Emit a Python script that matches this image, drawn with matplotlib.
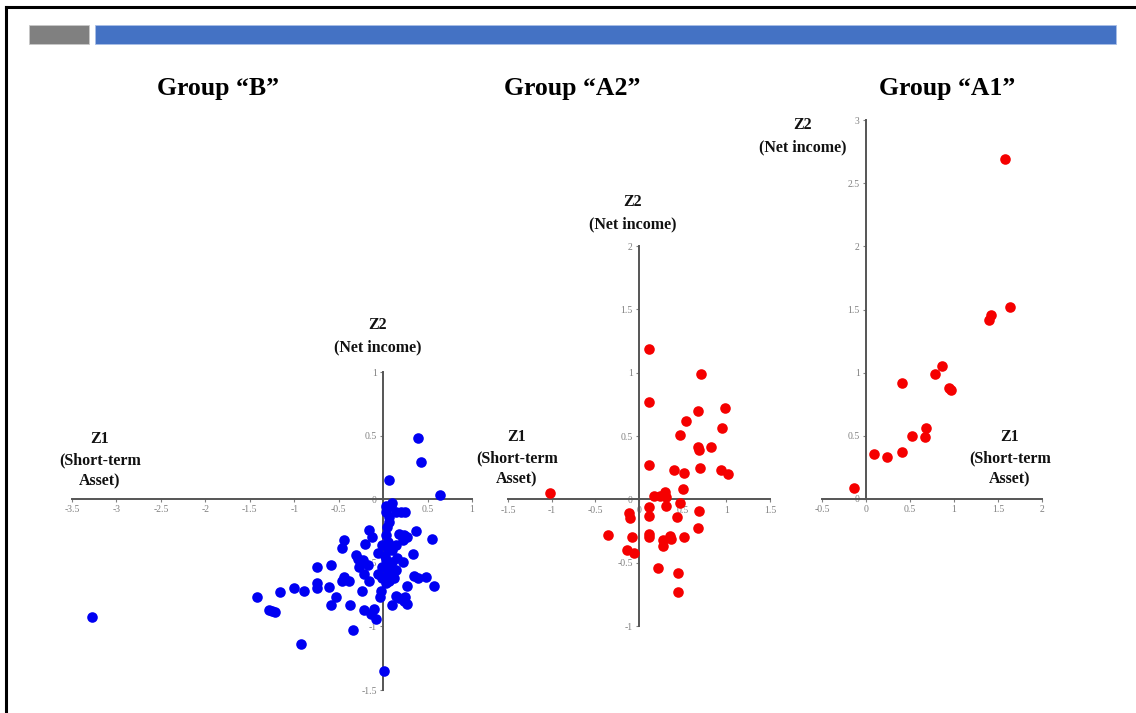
import matplotlib
matplotlib.use("Agg")
import matplotlib.pyplot as plt
from matplotlib.lines import Line2D
from matplotlib.patches import Rectangle
from matplotlib.ticker import FuncFormatter

plt.rcParams['font.family'] = ['Liberation Serif', 'DejaVu Serif']
plt.rcParams['axes.unicode_minus'] = False

# --- data (Z1 = short-term asset, Z2 = net income) ---
b_z1 = [-3.27, 0.39, 0.43, 0.07, 0.64, 0.03, 0.09, 0.03, 0.07, 0.14, 0.25, 0.07,
        0.04, 0.37, 0.55, -0.16, -0.12, -0.20, 0.03, 0.18, 0.24, 0.27, 0.22, -0.44,
        -0.46, -0.01, 0.05, -0.31, -0.23, -0.17, -0.21, -0.28, 0.10, 0.16, 0.10, 0.03,
        -0.01, 0.05, 0.14, 0.22, 0.08, 0.12, 0.34, 0.35, 0.39, 0.48, 0.57, 0.27,
        -0.44, -0.38, -0.46, -0.16, -0.06, -0.01, 0.03, 0.07, -0.74, -0.59, -0.74, -0.74,
        -0.61, -0.53, -0.59, -1.00, -0.89, -1.16, -1.42, -1.28, -1.22, -1.25, -0.92, -0.24,
        -0.37, -0.22, -0.10, -0.08, -0.34, -0.04, -0.02, 0.10, 0.14, 0.24, 0.27, 0.25,
        0.18, 0.01, 0.10, 0.20, -0.14, -0.27, 0.02, 0.06, 0.14, -0.06]
b_z2 = [-0.93, 0.48, 0.29, 0.15, 0.03, -0.05, -0.05, -0.10, -0.14, -0.10, -0.10, -0.18,
        -0.22, -0.25, -0.31, -0.24, -0.30, -0.35, -0.28, -0.27, -0.28, -0.30, -0.32, -0.32,
        -0.38, -0.36, -0.40, -0.44, -0.48, -0.52, -0.59, -0.47, -0.40, -0.46, -0.49, -0.48,
        -0.53, -0.57, -0.56, -0.49, -0.52, -0.62, -0.43, -0.60, -0.62, -0.61, -0.68, -0.68,
        -0.61, -0.64, -0.64, -0.64, -0.59, -0.62, -0.66, -0.64, -0.53, -0.52, -0.66, -0.70,
        -0.69, -0.77, -0.83, -0.70, -0.72, -0.73, -0.77, -0.87, -0.89, -0.88, -1.14, -0.72,
        -0.83, -0.87, -0.86, -0.94, -1.03, -0.77, -0.72, -0.83, -0.76, -0.80, -0.82, -0.77,
        -0.78, -1.35, -0.03, -0.10, -0.90, -0.53, -0.45, -0.34, -0.36, -0.42]

a2_z1 = [-1.02, 0.12, 0.12, 0.71, 0.68, 0.98, 0.54, 0.95, 0.47, 0.68, 0.69, 0.83,
         0.11, 0.40, 0.52, 0.70, 0.94, 1.02, 0.50, 0.17, 0.24, 0.30, 0.31, 0.47,
         0.11, 0.31, -0.12, -0.10, 0.12, 0.43, 0.69, -0.35, -0.08, 0.12, 0.12, 0.28,
         0.28, 0.35, 0.37, 0.52, 0.67, -0.14, -0.06, 0.22, 0.45, 0.45]
a2_z2 = [0.05, 1.19, 0.77, 0.99, 0.70, 0.72, 0.62, 0.56, 0.51, 0.41, 0.39, 0.41,
         0.27, 0.23, 0.21, 0.25, 0.23, 0.20, 0.08, 0.03, 0.03, 0.06, 0.02, -0.03,
         -0.06, -0.05, -0.11, -0.15, -0.13, -0.14, -0.09, -0.28, -0.30, -0.27, -0.30, -0.32,
         -0.37, -0.29, -0.31, -0.30, -0.23, -0.40, -0.42, -0.54, -0.58, -0.73]

a1_z1 = [1.58, 1.64, 1.42, 1.40, 0.86, 0.78, 0.94, 0.97, 0.41, 0.52, 0.68, 0.67,
         0.09, 0.24, 0.41, -0.14]
a1_z2 = [2.69, 1.52, 1.46, 1.42, 1.05, 0.99, 0.88, 0.86, 0.92, 0.50, 0.56, 0.49,
         0.36, 0.33, 0.37, 0.09]

titles = ['Group \u201cB\u201d', 'Group \u201cA2\u201d', 'Group \u201cA1\u201d']
b_xticks = [-3.5, -3, -2.5, -2, -1.5, -1, -0.5, 0, 0.5, 1]
b_yticks = [-1.5, -1, -0.5, 0, 0.5, 1]
a2_xticks = [-1.5, -1, -0.5, 0, 0.5, 1, 1.5]
a2_yticks = [-1, -0.5, 0, 0.5, 1, 1.5, 2]
a1_xticks = [-0.5, 0, 0.5, 1, 1.5, 2]
a1_yticks = [0, 0.5, 1, 1.5, 2, 2.5, 3]

W, H = 1136, 713


def fx(px):
    return px / W


def fy(py):
    return 1 - py / H


fig = plt.figure(figsize=(W / 100, H / 100), dpi=100)

# slide frame and header bars
fig.add_artist(Line2D([fx(6), fx(W)], [fy(7), fy(7)], color='black', lw=2.2))
fig.add_artist(Line2D([fx(6), fx(6)], [fy(7), fy(H)], color='black', lw=2.2))
fig.add_artist(Rectangle((fx(29), fy(44)), 60 / W, 19 / H, transform=fig.transFigure,
                         facecolor='#808080', edgecolor='#c8c8c8', lw=0.6))
fig.add_artist(Rectangle((fx(95), fy(44)), 1021 / W, 19 / H, transform=fig.transFigure,
                         facecolor='#4472c4', edgecolor='#a9bfe6', lw=0.6))

# (pixel box of the axes, data, colour, ticks)
panels = [
    ((72, 472, 372, 690), b_z1, b_z2, '#0000f2', b_xticks, b_yticks),
    ((508, 770, 246, 626), a2_z1, a2_z2, '#f50000', a2_xticks, a2_yticks),
    ((822, 1042, 120, 499), a1_z1, a1_z2, '#f50000', a1_xticks, a1_yticks),
]

fmt = FuncFormatter(lambda v, _: f'{v:g}')
axis_col = '#555555'

for (x0, x1, yt, yb), xs, ys, col, xt, yt_ticks in panels:
    ax = fig.add_axes([fx(x0), fy(yb), (x1 - x0) / W, (yb - yt) / H])
    ax.set_xlim(xt[0], xt[-1])
    ax.set_ylim(yt_ticks[0], yt_ticks[-1])
    ax.set_xticks(xt)
    ax.set_yticks(yt_ticks)
    ax.xaxis.set_major_formatter(fmt)
    ax.yaxis.set_major_formatter(fmt)
    for side in ('top', 'right'):
        ax.spines[side].set_visible(False)
    for side in ('left', 'bottom'):
        ax.spines[side].set_position(('data', 0))
        ax.spines[side].set_color(axis_col)
        ax.spines[side].set_linewidth(1.4)
    ax.tick_params(direction='out', length=2.5, width=0.8, colors='#808080',
                   labelsize=7, pad=2)
    ax.patch.set_visible(False)
    ax.scatter(xs, ys, s=58, color=col, linewidths=0, clip_on=False, zorder=3)

# titles
for t, cx in zip(titles, [218, 572, 947]):
    fig.text(fx(cx), fy(88), t, ha='center', va='center', fontsize=18.5,
             fontweight='bold')

# axis names
lab = dict(ha='center', va='center', fontsize=11.5, fontweight='bold', color='#111111')
for cx, y1 in [(378, 325), (633, 202), (803, 125)]:
    fig.text(fx(cx), fy(y1), 'Z2', **lab)
    fig.text(fx(cx), fy(y1 + 22), '(Net income)', **lab)
for cx, y1 in [(100, 439), (517, 437), (1010, 437)]:
    fig.text(fx(cx), fy(y1), 'Z1', **lab)
    fig.text(fx(cx), fy(y1 + 21), '(Short-term', **lab)
    fig.text(fx(cx), fy(y1 + 42), 'Asset)', **lab)

fig.savefig('out.png', dpi=100, facecolor='white')
